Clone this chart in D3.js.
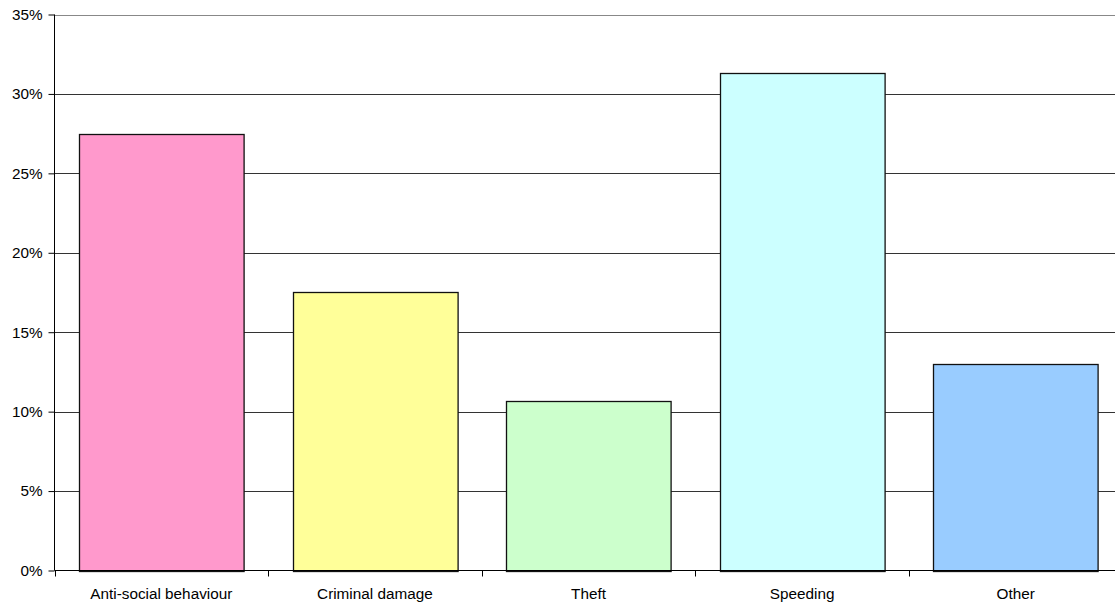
<!DOCTYPE html>
<html>
<head>
<meta charset="utf-8">
<script src="https://cdn.jsdelivr.net/npm/d3@7"></script>
<style>
  html, body { margin: 0; padding: 0; background: #fff; }
  svg { display: block; }
  text { font-family: "Liberation Sans", Arial, sans-serif; fill: #000; }
</style>
</head>
<body>
<svg id="chart" width="1115" height="604"></svg>
<script>
// Share of reported issues by type
const categories = ["Anti-social behaviour", "Criminal damage", "Theft", "Speeding", "Other"];
const values = [27.5, 17.55, 10.7, 31.3, 13.0];
const colors = ["#FF99CC", "#FFFF99", "#CCFFCC", "#CCFFFF", "#99CCFF"];
const yTicks = [0, 5, 10, 15, 20, 25, 30, 35];

const svg = d3.select("#chart");
const plotLeft = 54.5, plotTop = 14.5, plotBottom = 570.5;
const step = 213.6;
const fontSize = 15.3;

const x = d3.scaleBand()
  .domain(categories)
  .range([plotLeft, plotLeft + step * categories.length])
  .paddingInner(0.2294)
  .paddingOuter(0.1147);

const y = d3.scaleLinear().domain([0, 35]).range([plotBottom, plotTop]);

// horizontal gridlines
svg.append("g")
  .selectAll("line")
  .data(yTicks.slice(1))
  .join("line")
  .attr("x1", plotLeft).attr("x2", 1115)
  .attr("y1", d => Math.round(y(d)) + 0.5).attr("y2", d => Math.round(y(d)) + 0.5)
  .attr("stroke", d => d === 35 ? "#888" : "#333")
  .attr("stroke-width", 1);

// bars
svg.append("g")
  .selectAll("rect")
  .data(categories)
  .join("rect")
  .attr("x", d => Math.round(x(d)) + 0.5)
  .attr("y", (d, i) => Math.round(y(values[i])) + 0.5)
  .attr("width", x.bandwidth())
  .attr("height", (d, i) => Math.round(y(0)) - Math.round(y(values[i])))
  .attr("fill", (d, i) => colors[i])
  .attr("stroke", "#111")
  .attr("stroke-width", 1.3);

// y axis
const yAxis = d3.axisLeft(y)
  .tickValues(yTicks)
  .tickFormat(d => d + "%")
  .tickSize(6)
  .tickPadding(6);
const gy = svg.append("g")
  .attr("transform", `translate(${plotLeft},0)`)
  .call(yAxis);
gy.select(".domain").attr("stroke", "#000").attr("d", `M0,${plotTop}V${plotBottom}`);
gy.selectAll(".tick line").attr("stroke", "#000");
gy.selectAll(".tick text").attr("font-size", fontSize).attr("font-family", "Liberation Sans, Arial, sans-serif");

// x axis: ticks at category boundaries
const boundaries = d3.range(categories.length + 1).map(i => plotLeft + i * step);
const gx = svg.append("g");
gx.append("line")
  .attr("x1", plotLeft).attr("x2", 1115)
  .attr("y1", plotBottom).attr("y2", plotBottom)
  .attr("stroke", "#000");
gx.selectAll("line.tick")
  .data(boundaries)
  .join("line")
  .attr("class", "tick")
  .attr("x1", d => Math.round(d) + 0.5).attr("x2", d => Math.round(d) + 0.5)
  .attr("y1", plotBottom).attr("y2", plotBottom + 6)
  .attr("stroke", "#000");
gx.selectAll("text")
  .data(categories)
  .join("text")
  .attr("x", d => x(d) + x.bandwidth() / 2)
  .attr("y", 599)
  .attr("text-anchor", "middle")
  .attr("font-size", fontSize)
  .text(d => d);
</script>
</body>
</html>
